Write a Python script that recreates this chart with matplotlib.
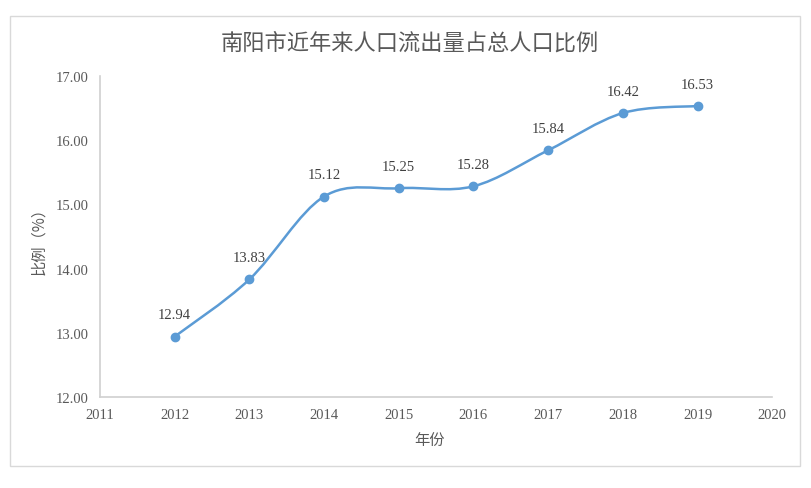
import matplotlib
matplotlib.use('Agg')
from matplotlib import pyplot as plt
from matplotlib.path import Path
from matplotlib.patches import PathPatch, Rectangle

plt.rcParams['font.family'] = ['Noto Sans CJK SC', 'DejaVu Sans']

years = [2012, 2013, 2014, 2015, 2016, 2017, 2018, 2019]
ratio = [12.94, 13.83, 15.12, 15.25, 15.28, 15.84, 16.42, 16.53]
labels = ['12.94', '13.83', '15.12', '15.25', '15.28', '15.84', '16.42', '16.53']

blue = '#5b9bd5'
grey_txt = '#595959'
serif = 'Liberation Serif'

fig = plt.figure(figsize=(8.12, 4.89), dpi=100)
ax = fig.add_axes([0.123, 0.186, 0.828, 0.657])

# smoothed line like the office-style chart (bezier between points)
verts = [(years[0], ratio[0])]
codes = [Path.MOVETO]
n = len(years)
for i in range(n - 1):
    x0, y0 = years[max(i - 1, 0)], ratio[max(i - 1, 0)]
    x1, y1 = years[i], ratio[i]
    x2, y2 = years[i + 1], ratio[i + 1]
    x3, y3 = years[min(i + 2, n - 1)], ratio[min(i + 2, n - 1)]
    c1 = (x1 + (x2 - x0) / 6, y1 + (y2 - y0) / 6)
    c2 = (x2 - (x3 - x1) / 6, y2 - (y3 - y1) / 6)
    verts += [c1, c2, (x2, y2)]
    codes += [Path.CURVE4] * 3
ax.add_patch(PathPatch(Path(verts, codes), facecolor='none', edgecolor=blue, lw=1.8))
ax.plot(years, ratio, 'o', color=blue, ms=6, zorder=3)

for x, y, t in zip(years, ratio, labels):
    ax.annotate(t, (x, y), xytext=(0, 11), textcoords='offset points', ha='center',
                va='bottom', fontsize=10.5, color='#404040', family=serif)

ax.set_xlim(2011, 2020)
ax.set_ylim(12, 17)
ax.set_xticks(range(2011, 2021))
ax.set_yticks([12, 13, 14, 15, 16, 17])
ax.set_yticklabels(['%.2f' % v for v in [12, 13, 14, 15, 16, 17]])
for lab in ax.get_xticklabels() + ax.get_yticklabels():
    lab.set_family(serif)
    lab.set_fontsize(10.5)
    lab.set_color(grey_txt)
ax.tick_params(length=0, pad=8)

for s in ['top', 'right']:
    ax.spines[s].set_visible(False)
for s in ['left', 'bottom']:
    ax.spines[s].set_color('#d0d0d0')
    ax.spines[s].set_linewidth(1.2)

ax.set_xlabel('年份', fontsize=11, color=grey_txt)
ax.set_ylabel('比例（%）', fontsize=11, color=grey_txt)
ax.xaxis.set_label_coords(0.49, -0.105)
ax.yaxis.set_label_coords(-0.078, 0.5)

fig.text(0.505, 0.912, '南阳市近年来人口流出量占总人口比例', ha='center', va='center',
         fontsize=16, color=grey_txt)

fig.patches.append(Rectangle((10 / 812, 1 - 467 / 489), 790 / 812, 450 / 489,
                             transform=fig.transFigure, fill=False,
                             edgecolor='#d9d9d9', lw=1))

fig.savefig('out.png', dpi=100)
